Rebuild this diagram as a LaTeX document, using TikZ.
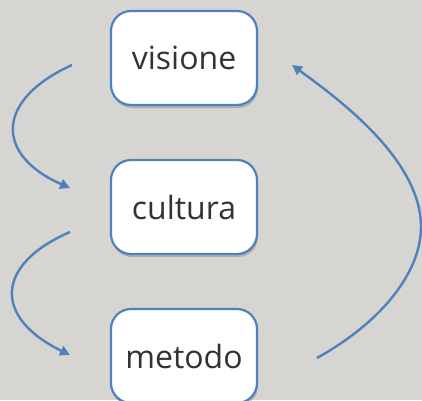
\documentclass[tikz,border=0pt]{standalone}
\usepackage{fontspec}
\setmainfont{Open Sans}
\usetikzlibrary{arrows.meta,shadows}
\definecolor{bg}{HTML}{D6D5D1}
\definecolor{edge}{HTML}{4F81BD}
\definecolor{txt}{HTML}{333333}
\tikzset{
  stagebox/.style={draw=edge, line width=2.2pt, fill=white, rounded corners=20pt,
    minimum width=146pt, minimum height=94pt, inner sep=0pt, text=txt,
    font=\fontsize{32}{36}\selectfont,
    drop shadow={shadow xshift=1pt, shadow yshift=-3pt, opacity=0.35, fill=black!60}},
  flow/.style={draw=edge, line width=2.4pt, -{Triangle[length=10pt,width=10pt]}}
}
\begin{document}
\begin{tikzpicture}[x=1pt,y=1pt]
\fill[bg] (0,0) rectangle (422,400);
\useasboundingbox (0,0) rectangle (422,400);
\node[stagebox] (visione) at (184,342) {visione};
\node[stagebox] (cultura) at (184,193) {cultura};
\node[stagebox] (metodo) at (184,44) {metodo};
\coordinate (a1s) at (72,335);
\coordinate (a1e) at (70,212);
\coordinate (a2s) at (70,168);
\coordinate (a2e) at (70,45);
\coordinate (a3s) at (317,42);
\coordinate (a3m) at (421,173);
\coordinate (a3e) at (292,335);
\draw[flow] (a1s) .. controls (-5,300) and (-5,245) .. (a1e);
\draw[flow] (a2s) .. controls (-6,135) and (-6,82) .. (a2e);
\draw[flow] (a3s) .. controls (385,80) and (421,130) .. (a3m)
  .. controls (421,240) and (340,300) .. (a3e);
\end{tikzpicture}
\end{document}
